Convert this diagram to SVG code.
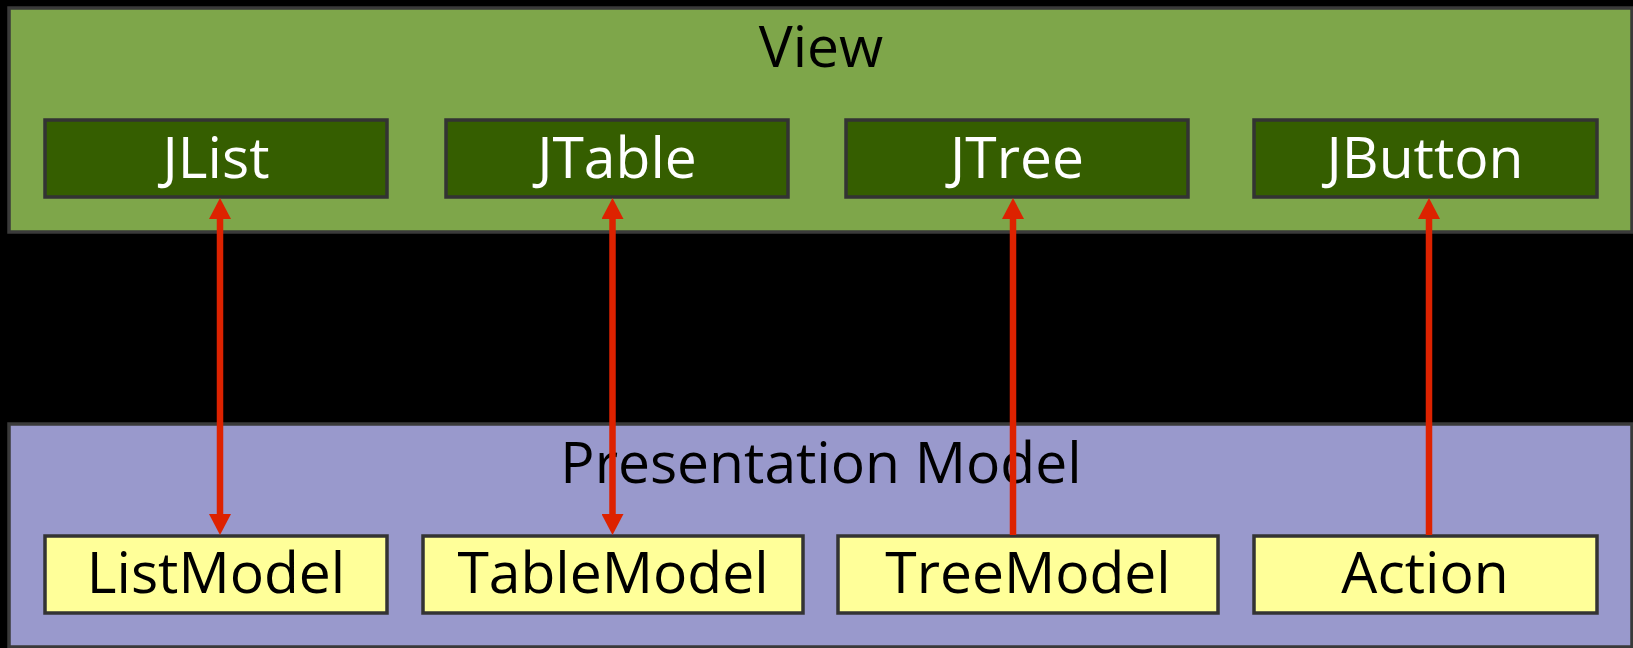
<svg xmlns="http://www.w3.org/2000/svg" width="1633" height="648" viewBox="0 0 1633 648">
  <style>
    .bg { fill: #000000; }
    .panel { stroke: #3a3a3a; stroke-width: 3.5; }
    .view { fill: #7ea64a; }
    .pm { fill: #9999cc; }
    .vbox { fill: #355e00; stroke: #333333; stroke-width: 3.5; }
    .mbox { fill: #ffff99; stroke: #333333; stroke-width: 3.5; }
    text { font-family: "Open Sans", "Noto Sans", "Liberation Sans", sans-serif; font-size: 57px; text-anchor: middle; }
    .light { fill: #ffffff; }
    .dark { fill: #000000; }
    .conn { stroke: #dd2200; stroke-width: 6.5; fill: none; }
  </style>
  <defs>
    <marker id="arrow" markerUnits="userSpaceOnUse" markerWidth="22" markerHeight="22" refX="0" refY="11" orient="auto-start-reverse" viewBox="0 0 22 22">
      <path d="M0,0 L21,11 L0,22 z" fill="#dd2200"/>
    </marker>
  </defs>
  <rect class="bg" x="0" y="0" width="1633" height="648"/>

  <g id="view-panel">
    <rect class="panel view" x="9" y="8" width="1623" height="224"/>
    <text class="dark" x="821" y="67">View</text>
  </g>
  <g id="presentation-model-panel">
    <rect class="panel pm" x="9" y="424" width="1623" height="223"/>
    <text class="dark" x="821" y="483">Presentation Model</text>
  </g>

  <g id="jlist">
    <rect class="vbox" x="45" y="120" width="342" height="77"/>
    <text class="light" x="216" y="178">JList</text>
  </g>
  <g id="jtable">
    <rect class="vbox" x="446" y="120" width="342" height="77"/>
    <text class="light" x="617" y="178">JTable</text>
  </g>
  <g id="jtree">
    <rect class="vbox" x="846" y="120" width="342" height="77"/>
    <text class="light" x="1017" y="178">JTree</text>
  </g>
  <g id="jbutton">
    <rect class="vbox" x="1254" y="120" width="343" height="77"/>
    <text class="light" x="1425" y="178">JButton</text>
  </g>

  <g id="listmodel">
    <rect class="mbox" x="45" y="536" width="342" height="77"/>
    <text class="dark" x="216" y="593">ListModel</text>
  </g>
  <g id="tablemodel">
    <rect class="mbox" x="423" y="536" width="380" height="77"/>
    <text class="dark" x="613" y="593">TableModel</text>
  </g>
  <g id="treemodel">
    <rect class="mbox" x="838" y="536" width="380" height="77"/>
    <text class="dark" x="1028" y="593">TreeModel</text>
  </g>
  <g id="action">
    <rect class="mbox" x="1254" y="536" width="343" height="77"/>
    <text class="dark" x="1425" y="593">Action</text>
  </g>

  <g id="connectors">
    <line class="conn" x1="220" y1="514" x2="220" y2="219" marker-start="url(#arrow)" marker-end="url(#arrow)"/>
    <line class="conn" x1="612.5" y1="514" x2="612.5" y2="219" marker-start="url(#arrow)" marker-end="url(#arrow)"/>
    <line class="conn" x1="1013" y1="535" x2="1013" y2="219" marker-end="url(#arrow)"/>
    <line class="conn" x1="1429" y1="535" x2="1429" y2="219" marker-end="url(#arrow)"/>
  </g>
</svg>
